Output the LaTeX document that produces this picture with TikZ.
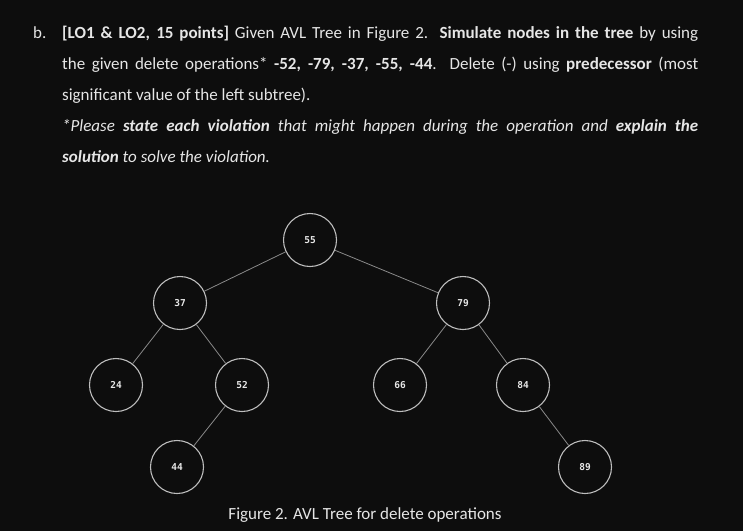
\documentclass[tikz,border=0pt]{standalone}
\usepackage{fontspec}
\setmainfont{Carlito}
\newfontfamily\monof{DejaVu Sans Mono}
\definecolor{bg}{HTML}{0D0D0D}
\definecolor{fg}{HTML}{E6E6E6}
\definecolor{ring}{HTML}{BDBDBD}
\definecolor{edge}{HTML}{8A8A8A}
\begin{document}
\begin{tikzpicture}[x=1pt,y=-1pt,
  tnode/.style={circle,draw=ring,line width=1.1pt,minimum size=53pt,inner sep=0pt,text=fg,font=\monof\bfseries\fontsize{9.5}{11}\selectfont},
  tedge/.style={draw=edge,line width=0.8pt}]
\fill[bg] (0,0) rectangle (743,531);
\useasboundingbox (0,0) rectangle (743,531);
\node[anchor=base west,text=fg,font=\fontsize{17}{31}\selectfont,inner sep=0pt] (b) at (33,38) {b.};
\node[anchor=north west,text=fg,inner sep=0pt,font=\fontsize{17}{31}\selectfont] (txt) at (62,25.5) {\parbox[t]{636pt}{\fontsize{17}{31}\selectfont
\textbf{[LO1 \& LO2, 15 points]} Given AVL Tree in Figure 2. \textbf{Simulate nodes in the tree} by using the given delete operations* \textbf{-52, -79, -37, -55, -44}. Delete (-) using \textbf{predecessor} (most\linebreak significant value of the left subtree).\par
\textit{*Please \textbf{state each violation} that might happen during the operation and \textbf{explain the}\linebreak \textbf{solution} to solve the violation.}}};
\node[tnode] (n55) at (310,240) {55};
\node[tnode] (n37) at (180,303) {37};
\node[tnode] (n79) at (463,303) {79};
\node[tnode] (n24) at (116,385) {24};
\node[tnode] (n52) at (242,385) {52};
\node[tnode] (n66) at (400,385) {66};
\node[tnode] (n84) at (523,385) {84};
\node[tnode] (n44) at (177,467) {44};
\node[tnode] (n89) at (585,467) {89};
\draw[tedge] (n55) -- (n37);
\draw[tedge] (n55) -- (n79);
\draw[tedge] (n37) -- (n24);
\draw[tedge] (n37) -- (n52);
\draw[tedge] (n52) -- (n44);
\draw[tedge] (n79) -- (n66);
\draw[tedge] (n79) -- (n84);
\draw[tedge] (n84) -- (n89);
\node[text=fg,font=\fontsize{17}{18}\selectfont,inner sep=0pt] (cap) at (365,515) {Figure 2. AVL Tree for delete operations};
\end{tikzpicture}
\end{document}
